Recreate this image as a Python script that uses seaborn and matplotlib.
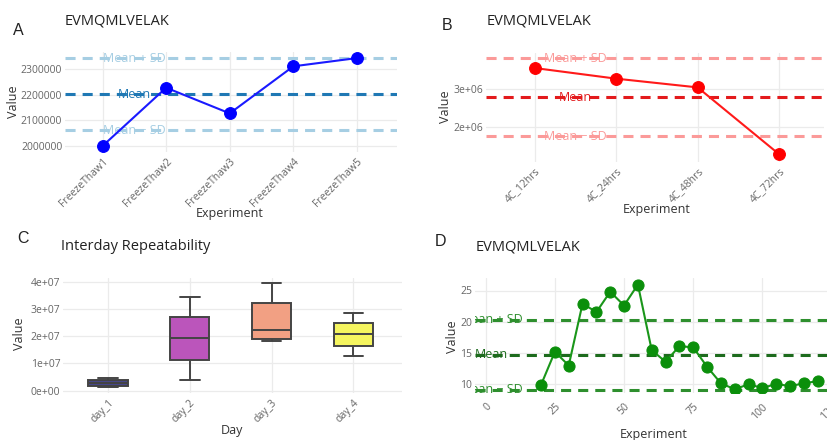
import numpy as np
import pandas as pd
import matplotlib
matplotlib.use("Agg")
import matplotlib.pyplot as plt
import seaborn as sns

# ── Data ─────────────────────────────────────────────────────────────────────
ft_labels = ["FreezeThaw1", "FreezeThaw2", "FreezeThaw3", "FreezeThaw4", "FreezeThaw5"]
ft_values = [2000000, 2228000, 2127600, 2311700, 2344000]

c4_labels = ["4C_12hrs", "4C_24hrs", "4C_48hrs", "4C_72hrs"]
c4_values = [3.56e6, 3.28e6, 3.05e6, 1.29e6]

day_labels = ["day_1", "day_2", "day_3", "day_4"]
day_values = {
    "day_1": [0.15e7, 0.18e7, 0.29e7, 0.40e7, 0.455e7],
    "day_2": [0.39e7, 1.13e7, 1.93e7, 2.72e7, 3.45e7],
    "day_3": [1.82e7, 1.886e7, 2.23e7, 3.21e7, 3.94e7],
    "day_4": [1.26e7, 1.65e7, 2.07e7, 2.48e7, 2.85e7],
}
day_colors = ["#47478a", "#bb55bb", "#f2a083", "#f5f55f"]

run_x = [20, 25, 30, 35, 40, 45, 50, 55, 60, 65, 70, 75, 80, 85, 90, 95, 100, 105, 110, 115, 120]
run_y = [9.9, 15.2, 13.0, 22.9, 21.55, 24.8, 22.6, 25.95, 15.45, 13.6, 16.1, 15.9,
         12.8, 10.15, 9.2, 10.0, 9.4, 10.05, 9.7, 10.15, 10.5]

peptide = "EVMQMLVELAK"

# ── Styling ──────────────────────────────────────────────────────────────────
sns.set_theme(style="whitegrid")
plt.rcParams["font.family"] = ["Open Sans", "DejaVu Sans"]
plt.rcParams["grid.color"] = "#ebebeb"
plt.rcParams["grid.linewidth"] = 0.9
plt.rcParams["axes.edgecolor"] = "white"

TICK_COLOR = "#666666"
LABEL_COLOR = "#333333"
DASH = (0, (3.3, 2.3))

fig = plt.figure(figsize=(8.28, 4.40), dpi=100)
W, H = 828, 440


def place(left, right, top, bottom):
    return fig.add_axes([left / W, 1 - bottom / H, (right - left) / W, (bottom - top) / H])


def style_axes(ax, xlabel, ylabel, xl, yl, rot=45, xpad=3):
    sns.despine(ax=ax, left=True, bottom=True)
    ax.tick_params(length=0, labelsize=7.5, labelcolor=TICK_COLOR)
    ax.tick_params(axis="y", pad=2)
    ax.tick_params(axis="x", pad=xpad)
    for lab in ax.get_xticklabels():
        lab.set_rotation(rot)
        lab.set_ha("right")
        lab.set_rotation_mode("anchor")
    ax.set_xlabel(xlabel, fontsize=9, color=LABEL_COLOR)
    ax.set_ylabel(ylabel, fontsize=9, color=LABEL_COLOR)
    ax.xaxis.set_label_coords(*xl)
    ax.yaxis.set_label_coords(*yl)
    ax.xaxis.label.set_va("center")
    ax.yaxis.label.set_va("center")


def mean_sd_lines(ax, values, sd_color, mean_color, text_x):
    m = np.mean(values)
    s = np.std(values, ddof=1)
    for y, col, txt in [(m + s, sd_color, "Mean + SD"), (m, mean_color, "Mean"),
                        (m - s, sd_color, "Mean \u2212 SD")]:
        ax.axhline(y, color=col, lw=2.2, linestyle=DASH, zorder=1)
        ax.text(text_x, y, txt, color=col, fontsize=9, ha="center", va="center",
                zorder=1, clip_on=True)


# ── Panel A ──────────────────────────────────────────────────────────────────
axA = place(65, 397, 51.7, 151.7)
sns.lineplot(x=ft_labels, y=ft_values, sort=False, ax=axA, color="#1a1aff", lw=1.5,
             marker="o", markersize=8.5, markerfacecolor="#0000ff",
             markeredgecolor="#0000ff", zorder=3)
mean_sd_lines(axA, ft_values, "#a6cee3", "#1f78b4", 0.5)
axA.set_xlim(-0.59, 4.63)
axA.set_ylim(1977700, 2368900)
axA.set_yticks([2000000, 2100000, 2200000, 2300000])
axA.set_yticklabels(["2000000", "2100000", "2200000", "2300000"])
style_axes(axA, "Experiment", "Value", (0.497, -0.613), (-0.156, 0.5))

# ── Panel B ──────────────────────────────────────────────────────────────────
axB = place(485.7, 824, 52.7, 161.7)
sns.lineplot(x=c4_labels, y=c4_values, sort=False, ax=axB, color="#ff1a1a", lw=1.5,
             marker="o", markersize=8.5, markerfacecolor="#ff0000",
             markeredgecolor="#ff0000", zorder=3)
mean_sd_lines(axB, c4_values, "#fb9a99", "#e31a1c", 0.5)
axB.set_xlim(-0.6, 3.55)
axB.set_ylim(1.095e6, 3.963e6)
axB.set_yticks([2e6, 3e6])
axB.set_yticklabels(["2e+06", "3e+06"])
style_axes(axB, "Experiment", "Value", (0.505, -0.443), (-0.118, 0.505))

# ── Panel C ──────────────────────────────────────────────────────────────────
axC = place(63, 401.7, 278, 393)
box_df = pd.DataFrame([(d, v) for d in day_labels for v in day_values[d]],
                      columns=["Day", "Value"])
sns.boxplot(data=box_df, x="Day", y="Value", hue="Day", palette=day_colors,
            order=day_labels, width=0.48, linewidth=1.4, linecolor="#444444",
            saturation=1, legend=False, ax=axC)
axC.set_xlim(-0.55, 3.59)
axC.set_ylim(-0.084e7, 4.136e7)
axC.set_yticks([0, 1e7, 2e7, 3e7, 4e7])
axC.set_yticklabels(["0e+00", "1e+07", "2e+07", "3e+07", "4e+07"])
axC.grid(True, axis="x")
style_axes(axC, "Day", "Value", (0.498, -0.328), (-0.127, 0.52))

# ── Panel D ──────────────────────────────────────────────────────────────────
axD = place(475, 836, 278, 393)
sns.lineplot(x=run_x, y=run_y, ax=axD, color="#1a961a", lw=1.5,
             marker="o", markersize=8, markerfacecolor="#0b8f0b",
             markeredgecolor="#0b8f0b", zorder=3)
mean_sd_lines(axD, run_y, "#2e8f2e", "#1d6b1d", 2)
axD.set_xlim(-3.87, 126.6)
axD.set_ylim(8.6, 27.0)
axD.set_xticks([0, 25, 50, 75, 100, 125])
axD.set_yticks([10, 15, 20, 25])
style_axes(axD, "Experiment", "Value", (0.496, -0.365), (-0.063, 0.49), xpad=6)

# ── Titles and panel letters ─────────────────────────────────────────────────
title_kw = dict(fontsize=10.5, color="#222222", va="center", ha="left")
fig.text(65 / W, 1 - 20.7 / H, peptide, **title_kw)
fig.text(486.7 / W, 1 - 20.7 / H, peptide, **title_kw)
fig.text(61 / W, 1 - 246 / H, "Interday Repeatability", **title_kw)
fig.text(475.7 / W, 1 - 246.7 / H, peptide, **title_kw)

letter_kw = dict(fontsize=11.5, color="#222222", va="center", ha="left",
                 family=["Liberation Sans", "DejaVu Sans"])
fig.text(13 / W, 1 - 30.7 / H, "A", **letter_kw)
fig.text(442 / W, 1 - 25 / H, "B", **letter_kw)
fig.text(17 / W, 1 - 238.3 / H, "C", **letter_kw)
fig.text(434.7 / W, 1 - 241.7 / H, "D", **letter_kw)

plt.savefig("out.png", dpi=100)
plt.close()
